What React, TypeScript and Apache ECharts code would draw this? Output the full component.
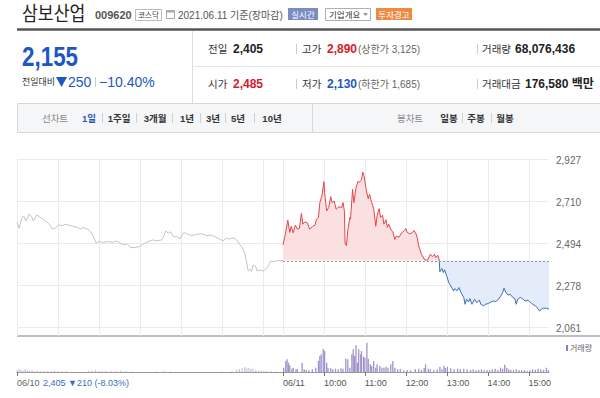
import React, { useEffect, useRef } from "react";
import * as echarts from "echarts";

const FONT = '"Liberation Sans", "Noto Sans CJK KR", sans-serif';

// 06/10 (previous day) price line: minutes from 09:00, price
const prevMinutes = [0,3,7,10,13,18,22,24,29,34,39,44,48,52,56,61,66,72,80,88,92,97,103,108,112,116,119,127,134,141,146,151,157,161,167,173,179,185,192,199,205,212,216,218,222,225,229,234,239,243,246,251,256,263,271,278,284,290,298,302,307,312,317,322,327,331,334,337,339,342,344,346,350,352,356,361,365,368,372,376,381,390];
const prevPrices = [2602,2571,2622,2634,2608,2644,2627,2608,2639,2627,2615,2602,2588,2567,2571,2588,2585,2591,2583,2576,2567,2574,2567,2553,2528,2494,2502,2499,2502,2499,2506,2494,2485,2490,2471,2473,2476,2488,2502,2511,2506,2511,2536,2557,2545,2553,2528,2528,2516,2545,2548,2540,2533,2540,2542,2533,2536,2528,2514,2506,2519,2516,2523,2511,2485,2468,2442,2391,2351,2360,2348,2382,2374,2351,2356,2351,2362,2374,2403,2399,2404,2405];

// 06/11 price line: minutes from 09:00, price
const todayMinutes = [0,3,7,10,12,15,18,21,24,27,29,32,36,39,43,47,49,52,54,57,60,61,64,67,70,72,75,78,82,86,88,90,91,93,95,98,99,102,104,107,110,112,115,117,119,122,125,127,130,133,136,138,141,143,146,148,151,153,155,159,161,164,166,170,174,178,180,182,186,190,192,195,197,199,203,208,212,216,219,222,224,227,229,230,233,235,237,240,243,246,250,252,255,258,261,265,267,269,272,274,277,281,284,288,290,294,297,301,305,309,312,316,320,322,324,327,330,333,337,340,342,344,348,351,355,359,363,366,370,374,376,379,382,386,390];
const todayPrices = [2485,2533,2613,2550,2581,2547,2587,2567,2570,2647,2592,2604,2598,2567,2579,2587,2618,2626,2703,2737,2810,2754,2660,2677,2733,2703,2711,2669,2682,2677,2703,2660,2491,2482,2559,2626,2618,2771,2703,2779,2813,2808,2818,2859,2839,2767,2723,2745,2703,2672,2581,2635,2672,2626,2638,2592,2615,2575,2592,2559,2553,2513,2530,2525,2547,2559,2570,2550,2542,2550,2559,2542,2520,2480,2437,2408,2407,2437,2425,2437,2420,2432,2408,2347,2364,2343,2357,2326,2292,2275,2249,2261,2249,2266,2240,2215,2180,2206,2192,2209,2180,2206,2189,2201,2180,2172,2180,2184,2192,2197,2194,2206,2227,2240,2263,2240,2227,2232,2215,2209,2180,2206,2215,2209,2197,2201,2189,2180,2172,2158,2146,2155,2160,2160,2155];
const lastUpMinute = 229; // last point of the day drawn in red (above previous close)

// volume (thousand shares) by minute
const volPrevMin = [0,3,6,9,12,15,18,22,26,30,35,40,45,50,55,60,66,72,105,110,115,120,125,130,138,145,152,160,168,205,215,225,300,315,322,326,330,334,337,340,343,346,350,354,358,362,366,372,380];
const volPrev = [60,90,60,40,90,50,40,60,30,40,30,40,30,30,40,30,20,30,30,40,60,40,30,40,30,30,40,30,20,20,30,20,20,30,60,90,120,150,110,130,90,100,60,40,50,40,30,30,20];
const volTodayMin = [1,4,6,8,10,13,15,19,21,28,31,34,38,43,48,52,54,56,59,61,64,66,70,73,77,81,85,88,92,95,98,101,103,105,107,109,111,114,115,118,120,123,125,128,130,133,136,138,142,145,148,151,154,158,161,164,168,172,177,182,187,194,199,203,207,209,213,216,221,226,230,233,236,238,241,246,251,256,260,265,270,275,279,283,287,291,295,299,303,307,311,315,319,322,325,328,331,334,338,342,346,350,354,358,362,366,370,374,378,382,386,389];
const volToday = [130,330,380,280,200,100,130,80,80,280,80,60,50,80,130,330,480,530,700,630,280,130,110,80,100,80,110,100,400,380,130,530,680,480,800,280,680,530,630,460,430,880,400,230,180,330,130,230,180,130,130,160,130,230,330,130,80,80,50,60,50,80,100,60,120,230,100,80,60,80,160,80,180,120,160,110,80,100,80,100,80,60,80,50,60,80,50,60,50,80,100,60,130,100,220,130,80,60,50,80,60,50,60,40,50,80,60,100,80,60,130,60];

const prevClose = 2405;
const Y_MIN = 2017;
const Y_MAX = 2927;
const yTicks = [2061, 2278, 2494, 2710, 2927];
const xGridValues = [0, 60, 120, 180, 240, 300, 360, 390, 450, 510, 570, 630, 690, 750];
const xLabelValues = [0, 390, 450, 510, 570, 630, 690, 750];
const xLabelTexts = ["06/10", "06/11", "10:00", "11:00", "12:00", "13:00", "14:00", "15:00"];
const prevDayNote = "2,405 ▼210 (-8.03%)";

function txt(text: string, x: number, y: number, o: any = {}) {
  return {
    type: "text",
    x,
    y,
    silent: true,
    scaleX: o.scaleX ?? 1,
    style: {
      text,
      fill: o.color ?? "#333",
      fontSize: o.size ?? 11,
      fontWeight: o.weight ?? "normal",
      fontFamily: FONT,
      align: o.align ?? "left",
      verticalAlign: "middle",
      textAlign: o.align ?? "left",
      textVerticalAlign: "middle",
    },
  };
}
function ln(x1: number, y1: number, x2: number, y2: number, color: string, w = 1) {
  return { type: "line", silent: true, shape: { x1, y1, x2, y2 }, style: { stroke: color, lineWidth: w } };
}
function rc(x: number, y: number, w: number, h: number, fill: string, stroke?: string) {
  return { type: "rect", silent: true, shape: { x, y, width: w, height: h }, style: { fill, stroke: stroke ?? null, lineWidth: 1 } };
}
const px = (v: number) => Math.round(v) + 0.5;

export default function App() {
  const ref = useRef<HTMLDivElement>(null);
  useEffect(() => {
    const chart = echarts.init(ref.current!, null, { renderer: "svg" });
    const prevData = prevMinutes.map((m, i) => [m, prevPrices[i]]);
    const todayData = todayMinutes.map((m, i) => [390 + m, todayPrices[i]]);
    const splitIdx = todayMinutes.indexOf(lastUpMinute);
    const upData = todayData.slice(0, splitIdx + 1);
    const downData = todayData.slice(splitIdx);
    const volData = [
      ...volPrevMin.map((m, i) => ({ value: [m, volPrev[i]], itemStyle: { color: "#cdc6de" } })),
      ...volTodayMin.map((m, i) => ({ value: [390 + m, volToday[i]], itemStyle: { color: "#a093cc" } })),
    ];
    const blue = "#1d57c0";
    const red = "#d3202a";
    const graphic: any[] = [
      txt("삼보산업", 22, 14, { size: 20, color: "#222", scaleX: 0.86 }),
      txt("009620", 95, 15, { size: 11, weight: "bold", color: "#555" }),
      rc(135.5, 9.5, 26, 11, "#fff", "#bbb"),
      txt("코스닥", 148.5, 15, { size: 7.5, color: "#444", align: "center" }),
      rc(166.5, 10.5, 8, 8, "#fff", "#aaa"),
      rc(166.5, 10.5, 8, 2, "#aaa"),
      txt("2021.06.11 기준(장마감)", 178, 15, { size: 10, color: "#555" }),
      rc(288, 8, 30, 12, "#7b8cc2"),
      txt("실시간", 303, 14.5, { size: 8.5, color: "#fff", align: "center" }),
      rc(325.5, 8.5, 45, 12, "#fff", "#aab0c0"),
      txt("기업개요", 329, 14.5, { size: 8.5, color: "#333" }),
      { type: "polygon", silent: true, shape: { points: [[363, 13], [368, 13], [365.5, 16]] }, style: { fill: "#999" } },
      rc(376, 8, 36, 12, "#ef8a45"),
      txt("투자경고", 394, 14.5, { size: 8.5, color: "#fff", align: "center" }),
      ln(17, 29.5, 600, 29.5, "#555", 2.5),
      txt("2,155", 22, 57, { size: 27, weight: "bold", color: blue, scaleX: 0.83 }),
      txt("전일대비", 22, 82, { size: 9, color: "#333" }),
      { type: "polygon", silent: true, shape: { points: [[56, 77], [67, 77], [61.5, 87]] }, style: { fill: blue } },
      txt("250", 68, 82, { size: 14, color: blue }),
      ln(95.5, 77, 95.5, 87, "#ccc"),
      txt("−10.40%", 99, 82, { size: 14, color: blue }),
      ln(192.5, 31, 192.5, 103, "#ddd"),
      ln(192, 66.5, 600, 66.5, "#e6e6e6"),
      txt("전일", 208, 49, { size: 10.5, color: "#333" }),
      txt("2,405", 233, 49, { size: 12, weight: "bold", color: "#222" }),
      ln(296.5, 44, 296.5, 54, "#ccc"),
      txt("고가", 302, 49, { size: 10.5, color: "#333" }),
      txt("2,890", 327, 49, { size: 12, weight: "bold", color: red }),
      txt("(상한가 3,125)", 358, 49, { size: 10, color: "#666" }),
      ln(477.5, 44, 477.5, 54, "#ccc"),
      txt("거래량", 482, 49, { size: 10.5, color: "#333" }),
      txt("68,076,436", 515, 49, { size: 12, weight: "bold", color: "#222" }),
      txt("시가", 208, 84, { size: 10.5, color: "#333" }),
      txt("2,485", 233, 84, { size: 12, weight: "bold", color: red }),
      ln(296.5, 79, 296.5, 89, "#ccc"),
      txt("저가", 302, 84, { size: 10.5, color: "#333" }),
      txt("2,130", 327, 84, { size: 12, weight: "bold", color: blue }),
      txt("(하한가 1,685)", 358, 84, { size: 10, color: "#666" }),
      ln(477.5, 79, 477.5, 89, "#ccc"),
      txt("거래대금", 482, 84, { size: 10.5, color: "#333" }),
      txt("176,580 백만", 525, 84, { size: 12, weight: "bold", color: "#222" }),
      rc(17.5, 103.5, 583, 29, "#f5f6f8", "#d8d8d8"),
      ln(312.5, 103, 312.5, 132, "#d8d8d8"),
      txt("선차트", 55, 118, { size: 9.5, color: "#888", align: "center" }),
      txt("1일", 89, 118, { size: 9.5, weight: "bold", color: "#2a56b3", align: "center" }),
      txt("1주일", 119, 118, { size: 9.5, weight: "bold", color: "#333", align: "center" }),
      txt("3개월", 155, 118, { size: 9.5, weight: "bold", color: "#333", align: "center" }),
      txt("1년", 187, 118, { size: 9.5, weight: "bold", color: "#333", align: "center" }),
      txt("3년", 213, 118, { size: 9.5, weight: "bold", color: "#333", align: "center" }),
      txt("5년", 238, 118, { size: 9.5, weight: "bold", color: "#333", align: "center" }),
      txt("10년", 272, 118, { size: 9.5, weight: "bold", color: "#333", align: "center" }),
      ...[102, 136, 172, 200, 225, 254, 462, 491].map((x) => ln(x + 0.5, 113, x + 0.5, 123, "#d0d0d0")),
      txt("봉차트", 410, 118, { size: 9.5, color: "#888", align: "center" }),
      txt("일봉", 449, 118, { size: 9.5, weight: "bold", color: "#333", align: "center" }),
      txt("주봉", 476, 118, { size: 9.5, weight: "bold", color: "#333", align: "center" }),
      txt("월봉", 505, 118, { size: 9.5, weight: "bold", color: "#333", align: "center" }),
      ln(17, 336, 600, 336, "#a8a8a8", 1.5),
      rc(566, 345, 2, 6, "#8f80c0"),
      txt("거래량", 570, 348, { size: 8, color: "#666" }),
    ];

    const option: any = {
      animation: false,
      backgroundColor: "#fff",
      textStyle: { fontFamily: FONT },
      grid: [
        { left: 17, top: 159, width: 532, height: 177 },
        { left: 17, top: 340, width: 532, height: 32 },
      ],
      xAxis: [
        { type: "value", gridIndex: 0, min: 0, max: 780, show: false, splitLine: { show: false } },
        {
          type: "value", gridIndex: 1, min: 0, max: 780,
          axisLine: { show: true, lineStyle: { color: "#9a9a9a", width: 1 } },
          axisTick: { show: false },
          axisLabel: { show: false },
          splitLine: { show: false },
        },
      ],
      yAxis: [
        { type: "value", gridIndex: 0, min: Y_MIN, max: Y_MAX, show: false, splitLine: { show: false } },
        { type: "value", gridIndex: 1, min: 0, max: 960, show: false, splitLine: { show: false } },
      ],
      series: [
        {
          type: "custom", xAxisIndex: 0, yAxisIndex: 0, silent: true, clip: false, z: 1,
          data: xGridValues.map((v) => [v, Y_MAX]),
          renderItem: (params: any, api: any) => {
            const a = api.coord([api.value(0), Y_MAX]);
            const b = api.coord([api.value(0), Y_MIN]);
            return { type: "line", shape: { x1: px(a[0]), y1: a[1], x2: px(a[0]), y2: b[1] }, style: { stroke: "#ebebeb", lineWidth: 1 } };
          },
        },
        {
          type: "custom", xAxisIndex: 0, yAxisIndex: 0, silent: true, clip: false, z: 1,
          data: yTicks.map((v) => [780, v]),
          renderItem: (params: any, api: any) => {
            const v = api.value(1);
            const a = api.coord([0, v]);
            const b = api.coord([780, v]);
            return {
              type: "group",
              children: [
                { type: "line", shape: { x1: a[0], y1: px(a[1]), x2: b[0], y2: px(a[1]) }, style: { stroke: "#ebebeb", lineWidth: 1 } },
                {
                  type: "text", x: b[0] + 7, y: a[1] + 1,
                  style: { text: yTicks[params.dataIndex].toLocaleString("en-US"), fill: "#666", fontSize: 10, fontFamily: FONT, align: "left", verticalAlign: "middle" },
                },
              ],
            };
          },
        },
        {
          type: "line", xAxisIndex: 0, yAxisIndex: 0, data: prevData, z: 3,
          symbol: "none", lineStyle: { color: "#c4c4c4", width: 1 }, itemStyle: { color: "#c4c4c4" },
        },
        {
          type: "line", xAxisIndex: 0, yAxisIndex: 0, data: upData, z: 3,
          symbol: "none", lineStyle: { color: "#e2474c", width: 1 }, itemStyle: { color: "#e2474c" },
          areaStyle: { origin: prevClose, color: "#fbe0e1", opacity: 1 },
        },
        {
          type: "line", xAxisIndex: 0, yAxisIndex: 0, data: downData, z: 3,
          symbol: "none", lineStyle: { color: "#3b6fb6", width: 1 }, itemStyle: { color: "#3b6fb6" },
          areaStyle: { origin: prevClose, color: "#e3ecf8", opacity: 1 },
        },
        {
          type: "custom", xAxisIndex: 0, yAxisIndex: 0, silent: true, clip: false, z: 4,
          data: [[390, prevClose]],
          renderItem: (params: any, api: any) => {
            const a = api.coord([api.value(0), api.value(1)]);
            const b = api.coord([780, api.value(1)]);
            return { type: "line", shape: { x1: a[0], y1: px(a[1]), x2: b[0], y2: px(a[1]) }, style: { stroke: "#999", lineWidth: 1, lineDash: [2, 2] } };
          },
        },
        {
          type: "bar", xAxisIndex: 1, yAxisIndex: 1, data: volData, barWidth: 1.3,
        },
        {
          type: "custom", xAxisIndex: 1, yAxisIndex: 1, silent: true, clip: false,
          data: xLabelValues.map((v) => [v, 0]),
          renderItem: (params: any, api: any) => {
            const i = params.dataIndex;
            const p = api.coord([api.value(0), 0]);
            const x = px(p[0]);
            const children: any[] = [
              { type: "line", shape: { x1: x, y1: p[1], x2: x, y2: p[1] + 4 }, style: { stroke: "#777", lineWidth: 1 } },
              {
                type: "text", x: p[0], y: p[1] + 11,
                style: { text: xLabelTexts[i], fill: i === 0 ? "#666" : "#555", fontSize: 9, fontFamily: FONT, align: "left", verticalAlign: "middle" },
              },
            ];
            if (i === 0) {
              children.push({
                type: "text", x: p[0] + 26, y: p[1] + 11,
                style: { text: prevDayNote, fill: "#3b6cc0", fontSize: 9, fontFamily: FONT, align: "left", verticalAlign: "middle" },
              });
            }
            return { type: "group", children };
          },
        },
      ],
      graphic,
    };
    chart.setOption(option);
    return () => chart.dispose();
  }, []);
  return <div ref={ref} style={{ position: "absolute", left: 0, top: 0, width: 600, height: 398 }} />;
}
